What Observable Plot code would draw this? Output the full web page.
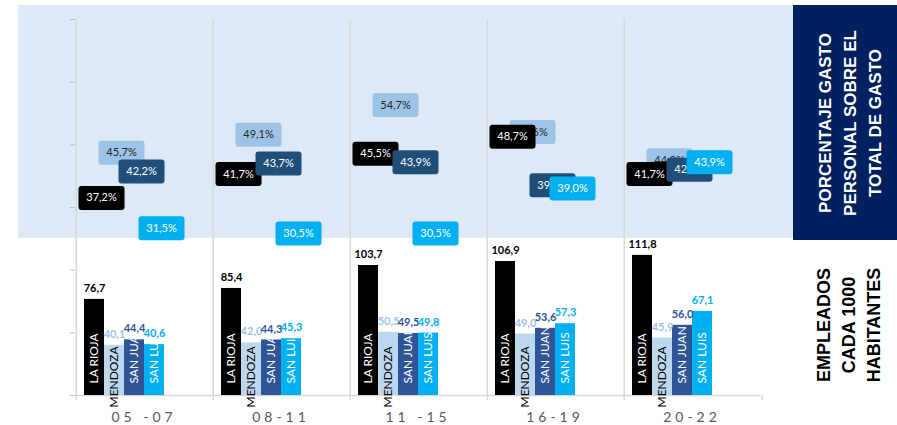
<!DOCTYPE html>
<html><head><meta charset="utf-8">
<script src="https://cdn.jsdelivr.net/npm/d3@7"></script>
<script src="https://cdn.jsdelivr.net/npm/@observablehq/plot@0.6"></script>
<style>
html,body{margin:0;padding:0;background:#fff;overflow:hidden}
#wrap{position:relative;width:897px;height:425px;font-family:"Liberation Sans",Arial,sans-serif}
#bg{position:absolute;left:18px;top:5px;width:775px;height:233px;background:#dde9f6}
#panel{position:absolute;left:793px;top:5px;width:104px;height:235px;background:#002060}
#chart{position:absolute;left:0;top:0}
.vt{position:absolute;transform:translate(-50%,-50%) rotate(-90deg);white-space:nowrap;text-align:center;font-weight:bold;line-height:25px}
#t1{left:850px;top:123px;color:#fff;font-size:17px}
#t2{left:849px;top:325px;color:#000;font-size:18px}
[aria-label^="fx-axis"] text{fill:#595959;font-size:14px;letter-spacing:4px}
[aria-label^="y-axis"] line,[aria-label^="y-axis"] path{stroke:#bfbfbf}
</style>
</head><body>
<div id="wrap">
  <div id="bg"></div>
  <div id="panel"></div>
  <div id="chart"></div>
  <div class="vt" id="t1">PORCENTAJE GASTO<br>PERSONAL SOBRE EL<br>TOTAL DE GASTO</div>
  <div class="vt" id="t2">EMPLEADOS<br>CADA 1000<br>HABITANTES</div>
</div>
<script>
const categories = ["05 -07", "08-11", "11 -15", "16-19", "20-22"];
const series = ["LA RIOJA", "MENDOZA", "SAN JUAN", "SAN LUIS"];
// Empleados cada 1000 habitantes
const laRiojaEmp = [76.7, 85.4, 103.7, 106.9, 111.8];
const mendozaEmp = [40.1, 42.0, 50.5, 49.0, 45.9];
const sanJuanEmp = [44.4, 44.3, 49.5, 53.6, 56.0];
const sanLuisEmp = [40.6, 45.3, 49.8, 57.3, 67.1];
// Porcentaje gasto personal sobre el total de gasto
const laRiojaPct = [37.2, 41.7, 45.5, 48.7, 41.7];
const mendozaPct = [45.7, 49.1, 54.7, 49.6, 44.3];
const sanJuanPct = [42.2, 43.7, 43.9, 39.6, 42.5];
const sanLuisPct = [31.5, 30.5, 30.5, 39.0, 43.9];
const yTicks = [0, 50, 100, 150, 200, 250, 300];

const empBySeries = [laRiojaEmp, mendozaEmp, sanJuanEmp, sanLuisEmp];
const pctBySeries = [laRiojaPct, mendozaPct, sanJuanPct, sanLuisPct];
const rows = [];
series.forEach((s, i) => categories.forEach((c, j) =>
  rows.push({cat: c, series: s, emp: empBySeries[i][j], pct: pctBySeries[i][j]})));

const barColor = {"LA RIOJA": "#000000", "MENDOZA": "#bdd7ee", "SAN JUAN": "#2f5597", "SAN LUIS": "#00b0f0"};
const valColor = {"LA RIOJA": "#000000", "MENDOZA": "#9dc3e6", "SAN JUAN": "#2f5597", "SAN LUIS": "#00b0f0"};
const badgeColor = {"LA RIOJA": "#000000", "MENDOZA": "#9dc3e6", "SAN JUAN": "#1f4e79", "SAN LUIS": "#00b0f0"};
const badgeText = {"LA RIOJA": "#ffffff", "MENDOZA": "#262626", "SAN JUAN": "#ffffff", "SAN LUIS": "#ffffff"};

const W = 897, H = 425, mL = 73, mR = 135, mT = 19, mB = 30;
const yMax = 300, pctMax = 70.8;
const xOff = [8, 90];
const bandW = (xOff[1] - xOff[0]) / series.length;
const facetW = (W - mL - mR) / categories.length;
const leftDx = -(xOff[0] + bandW / 2);
const fmt = v => v.toFixed(1).replace(".", ",");
const pctY = d => d.pct * yMax / pctMax;

const badge = {
  draw(ctx) {
    const w = 46, h = 24, r = 3, x0 = -w / 2, y0 = -h / 2;
    ctx.moveTo(x0 + r, y0);
    ctx.lineTo(x0 + w - r, y0);
    ctx.arcTo(x0 + w, y0, x0 + w, y0 + r, r);
    ctx.lineTo(x0 + w, y0 + h - r);
    ctx.arcTo(x0 + w, y0 + h, x0 + w - r, y0 + h, r);
    ctx.lineTo(x0 + r, y0 + h);
    ctx.arcTo(x0, y0 + h, x0, y0 + h - r, r);
    ctx.lineTo(x0, y0 + r);
    ctx.arcTo(x0, y0, x0 + r, y0, r);
    ctx.closePath();
  }
};

const catRows = categories.map(c => ({cat: c}));
const marks = [
  Plot.ruleX(catRows, {fx: "cat", x: () => series[0], y1: () => -4, y2: () => yMax, dx: leftDx, stroke: "#d9d9d9", strokeWidth: 1.5}),
  Plot.ruleX(catRows.slice(-1), {fx: "cat", x: () => series[0], y1: () => -4, y2: () => 0, dx: leftDx + facetW, stroke: "#d9d9d9", strokeWidth: 1.5}),
  Plot.ruleY(catRows, {fx: "cat", y: () => 0, stroke: "#d9d9d9", strokeWidth: 1.5}),
  Plot.barY(rows, {fx: "cat", x: "series", y: "emp", fill: d => barColor[d.series]}),
  Plot.text(rows.filter(d => d.series !== "MENDOZA"), {fx: "cat", x: "series", y: () => 0, text: "series", rotate: -90, textAnchor: "start", dy: -12, fill: "#ffffff", fontSize: 12, fontFamily: "Lato, sans-serif"}),
  Plot.text(rows.filter(d => d.series === "MENDOZA"), {fx: "cat", x: "series", y: () => 0, text: "series", rotate: -90, textAnchor: "start", dy: 12, fill: "#000000", fontSize: 12, fontFamily: "Lato, sans-serif"}),
  Plot.text(rows, {fx: "cat", x: "series", y: "emp", text: d => fmt(d.emp), dy: -11, fill: d => valColor[d.series], fontWeight: "bold", fontSize: 11, fontFamily: "Lato, sans-serif"})
];
for (const s of ["MENDOZA", "LA RIOJA", "SAN JUAN", "SAN LUIS"]) {
  const sub = rows.filter(d => d.series === s);
  marks.push(Plot.dot(sub, {fx: "cat", x: "series", y: pctY, symbol: badge, r: 5, fill: badgeColor[s], stroke: "none", dx: 7}));
  marks.push(Plot.text(sub, {fx: "cat", x: "series", y: pctY, text: d => fmt(d.pct) + "%", fill: badgeText[s], fontSize: 11, fontFamily: "Lato, sans-serif", dx: 7}));
}

const chart = Plot.plot({
  width: W, height: H,
  marginLeft: mL, marginRight: mR, marginTop: mT, marginBottom: mB,
  style: {background: "transparent", fontFamily: "Lato, sans-serif", fontSize: "10px", overflow: "visible"},
  fx: {domain: categories, padding: 0, tickSize: 0, tickPadding: 17, label: null, axis: "bottom"},
  x: {domain: series, range: [mL + xOff[0], mL + xOff[1]], padding: 0, axis: null},
  y: {domain: [0, yMax], ticks: yTicks, tickFormat: () => "", tickSize: 5, label: null},
  marks
});
document.getElementById("chart").appendChild(chart);
</script>
</body></html>
